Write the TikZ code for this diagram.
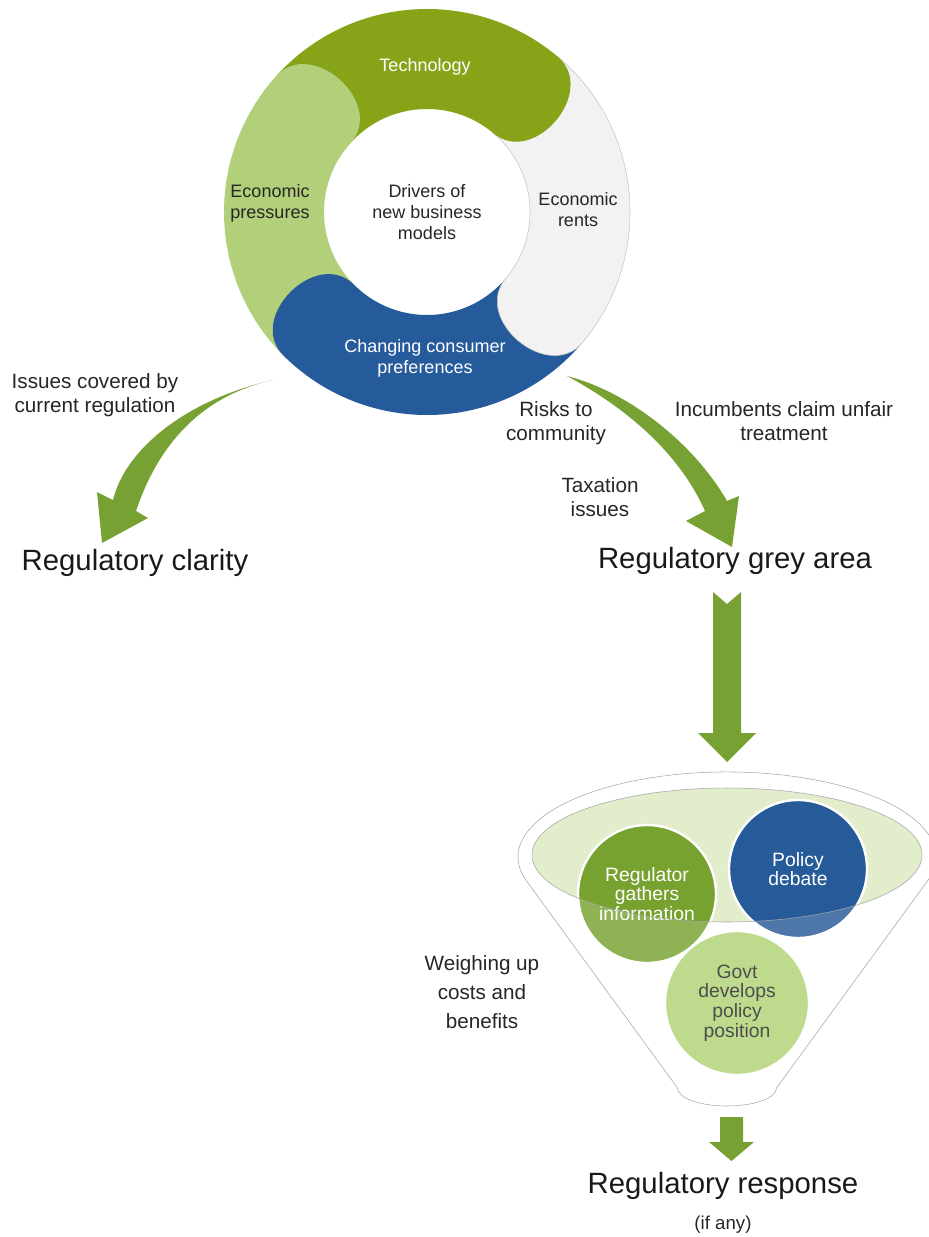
\documentclass[tikz,border=0pt]{standalone}
\usepackage{fontspec}
\setmainfont{Liberation Sans}
\usepackage{tikz}
\usetikzlibrary{positioning}
\usepackage{xcolor}

\definecolor{techgreen}{HTML}{87A318}
\definecolor{pressgreen}{HTML}{B2CF79}
\definecolor{rentgrey}{HTML}{F2F2F2}
\definecolor{rentline}{HTML}{C4C4C4}
\definecolor{prefblue}{HTML}{265B9B}
\definecolor{arrowgreen}{HTML}{77A233}
\definecolor{gathergreen}{HTML}{77A22F}
\definecolor{debateblue}{HTML}{275A99}
\definecolor{govtgreen}{HTML}{B0D474}
\definecolor{rimfill}{HTML}{E1EDCB}
\definecolor{rimline}{HTML}{A6A6A6}

\begin{document}
\begin{tikzpicture}[x=0.75pt, y=-0.75pt,
	side/.style={align=center, text=black!85, font=\fontsize{15.5}{17.5}\selectfont},
	head/.style={text=black!90, font=\fontsize{22}{26}\selectfont},
	seg/.style={align=center, font=\fontsize{13.5}{15.75}\selectfont},
	bubble/.style={circle, draw=white, line width=1.8pt, inner sep=0pt, align=center, font=\fontsize{14.5}{14.8}\selectfont},
	]
	
	\useasboundingbox (0,0) rectangle (928,1237);
	
	%Ring
	\begin{scope}[shift={(427,212)}, y=0.75pt]
		\fill[pressgreen] (-135:203) arc[start angle=-135, end angle=-222, radius=203] .. controls (-236.7:209.9) and (-249.4:116) .. (-222:103) arc[start angle=-222, end angle=-135, radius=103] -- cycle;
		\fill[prefblue]   (-40:203) arc[start angle=-40, end angle=-135, radius=203] .. controls (-149.7:209.9) and (-162.4:116) .. (-135:103) arc[start angle=-135, end angle=-40, radius=103] -- cycle;
		\filldraw[fill=rentgrey, draw=rentline, thin] (50:203) arc[start angle=50, end angle=-40, radius=203] .. controls (-54.7:209.9) and (-67.4:116) .. (-40:103) arc[start angle=-40, end angle=50, radius=103] -- cycle;
		\fill[techgreen]  (138:203) arc[start angle=138, end angle=50, radius=203] .. controls (35.3:209.9) and (22.6:116) .. (50:103) arc[start angle=50, end angle=138, radius=103] -- cycle;
		% round end of the left segment again, over the top one
		\fill[pressgreen] (-215:203) arc[start angle=-215, end angle=-222, radius=203] .. controls (-236.7:209.9) and (-249.4:116) .. (-222:103) arc[start angle=-222, end angle=-215, radius=103] -- cycle;
	\end{scope}
	
	%Ring labels
	\node[seg, text=black!85] (drivers)     at (427,212) {Drivers of\\new business\\models};
	\node[seg, text=white]    (technology)  at (425,67)  {Technology};
	\node[seg, text=black!85] (pressures)   at (270,203) {Economic\\pressures};
	\node[seg, text=black!85] (rents)       at (578,210) {Economic\\rents};
	\node[seg, text=white]    (preferences) at (425,358) {Changing consumer\\preferences};
	
	%Curved arrows
	\fill[arrowgreen] (273,380) .. controls (205,395) and (160,440) .. (136,511) -- (148,518) -- (102,543) -- (97,492) -- (113,500) .. controls (125,450) and (185,400) .. (273,380) -- cycle;
	\fill[arrowgreen] (567,376) .. controls (630,392) and (695,445) .. (727,501) -- (739,496) -- (732,547) -- (686,521) -- (705,511) .. controls (680,455) and (630,410) .. (567,376) -- cycle;
	
	%Labels
	\node[side] (covered)    at (95,395)  {Issues covered by\\current regulation};
	\node[side] (risks)      at (556,423) {Risks to\\community};
	\node[side] (taxation)   at (600,497) {Taxation\\issues};
	\node[side] (incumbents) at (784,421) {Incumbents claim unfair\\treatment};
	\node[head] (clarity)    at (135,563) {Regulatory clarity};
	\node[head] (greyarea)   at (735,561) {Regulatory grey area};
	
	%Down arrow
	\coordinate (greydown) at (727,592);
	\fill[arrowgreen] (greydown) ++(-14,0) -- ++(14,12) -- ++(14,-12) -- ++(0,141) -- ++(15,0) -- ++(-29,29) -- ++(-29,-29) -- ++(15,0) -- cycle;
	
	%Funnel
	\fill[rimfill] (727,855) ellipse[x radius=195, y radius=67];
	\node[bubble, fill=gathergreen, text=white, minimum size=103.5pt] (gathers) at (647,894)  {Regulator\\gathers\\information};
	\node[bubble, fill=debateblue, text=white, minimum size=103.5pt]  (debate)  at (798,869)  {Policy\\debate};
	\node[bubble, fill=govtgreen, text=black!85, minimum size=108pt]  (govt)    at (737,1003) {Govt\\develops\\policy\\position};
	\filldraw[fill=white, fill opacity=0.18, draw=rimline, thin, even odd rule] (526.6,881.1) arc[start angle=163.5, end angle=376.5, x radius=209, y radius=85] -- (776.5,1088) arc[start angle=0, end angle=180, x radius=49.5, y radius=18] -- cycle (727,855) ellipse[x radius=195, y radius=67];
	\node[side, font=\fontsize{15.5}{21.75}\selectfont] (weighing) at (482,992) {Weighing up\\costs and\\benefits};
	
	%Response
	\coordinate (respdown) at (731.5,1117);
	\fill[arrowgreen] (respdown) ++(-11.5,0) -- ++(23,0) -- ++(0,25) -- ++(11,0) -- ++(-22.5,19) -- ++(-22.5,-19) -- ++(11,0) -- cycle;
	\node[head] (response) at (723,1186) {Regulatory response};
	\node[side, font=\fontsize{14}{16}\selectfont] (ifany) [below=5pt of response] {(if any)};
\end{tikzpicture}
\end{document}
